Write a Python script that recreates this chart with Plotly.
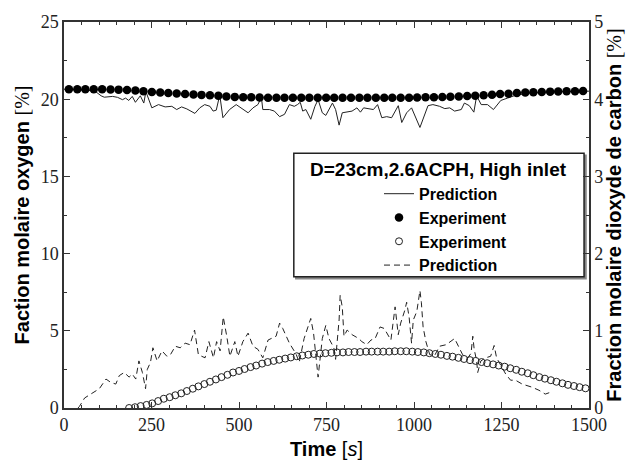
import plotly.graph_objects as go

# ---- data ----
o2_exp_t = [14, 38, 61, 85, 109, 133, 156, 180, 204, 227, 251, 275, 298, 322, 346, 370, 393, 417, 441, 464,
            488, 512, 535, 559, 583, 607, 630, 654, 678, 701, 725, 749, 772, 796, 820, 844, 867, 891, 915, 938,
            962, 986, 1009, 1033, 1057, 1081, 1104, 1128, 1152, 1175, 1199, 1223, 1246, 1270, 1294, 1318, 1341,
            1365, 1389, 1412, 1436, 1460, 1483]
o2_exp_v = [20.65, 20.65, 20.65, 20.64, 20.64, 20.63, 20.62, 20.60, 20.57, 20.52, 20.47, 20.43, 20.40, 20.37,
            20.34, 20.31, 20.28, 20.25, 20.22, 20.18, 20.15, 20.13, 20.12, 20.11, 20.10, 20.10, 20.10, 20.10,
            20.10, 20.10, 20.10, 20.10, 20.10, 20.10, 20.10, 20.10, 20.10, 20.10, 20.10, 20.10, 20.10, 20.10,
            20.11, 20.12, 20.13, 20.14, 20.16, 20.18, 20.20, 20.22, 20.25, 20.29, 20.33, 20.36, 20.40, 20.43,
            20.45, 20.47, 20.49, 20.50, 20.51, 20.52, 20.53]

o2_pred_t = [0, 40, 87, 106, 115, 139, 153, 167, 176, 185, 195, 204, 218, 228, 234, 251, 270, 289, 308, 322,
             336, 351, 374, 388, 402, 417, 426, 435, 445, 454, 473, 492, 498, 526, 540, 554, 564, 568, 587, 601,
             616, 630, 644, 658, 667, 675, 682, 691, 705, 717, 726, 738, 748, 767, 776, 786, 795, 809, 823, 837,
             847, 856, 875, 884, 896, 908, 922, 936, 955, 965, 979, 993, 1017, 1040, 1054, 1073, 1088, 1102, 1116,
             1135, 1144, 1158, 1171, 1179, 1192, 1210, 1227, 1248, 1267, 1286, 1320, 1360, 1400, 1450, 1500]
o2_pred_v = [20.65, 20.62, 20.55, 20.22, 20.13, 20.18, 20.12, 19.97, 20.07, 19.92, 20.18, 19.80, 20.22, 19.75,
             20.49, 19.44, 19.65, 19.50, 19.54, 19.33, 19.50, 19.37, 19.08, 19.44, 19.65, 19.54, 19.23, 19.29,
             20.28, 18.80, 19.33, 19.65, 19.55, 19.12, 19.44, 19.65, 20.13, 19.33, 19.33, 19.23, 18.87, 19.02,
             19.65, 19.54, 19.65, 19.80, 19.23, 19.33, 18.70, 19.54, 19.97, 19.12, 18.95, 19.75, 19.33, 18.32,
             19.12, 19.16, 19.23, 19.44, 19.16, 19.44, 19.37, 19.33, 19.65, 18.80, 18.87, 18.80, 19.58, 18.49,
             19.12, 19.44, 18.17, 19.58, 19.65, 19.54, 19.39, 19.44, 19.23, 19.33, 19.75, 19.58, 19.16, 20.22,
             19.65, 19.65, 19.33, 19.92, 20.07, 20.22, 20.38, 20.45, 20.48, 20.50, 20.52]

co2_exp_t = [186, 203, 219, 236, 252, 269, 285, 302, 318, 335, 351, 368, 384, 401, 417, 434, 450, 467, 483, 500,
             516, 533, 549, 566, 582, 599, 615, 632, 648, 665, 681, 698, 714, 731, 747, 764, 780, 797, 813, 830,
             846, 863, 879, 896, 912, 929, 945, 962, 978, 995, 1011, 1028, 1044, 1061, 1077, 1094, 1110, 1127,
             1143, 1160, 1176, 1193, 1209, 1226, 1242, 1259, 1275, 1292, 1308, 1325, 1341, 1358, 1374, 1391,
             1407, 1424, 1440, 1457, 1473, 1490]
co2_exp_v = [0.00, 0.01, 0.025, 0.04, 0.06, 0.09, 0.12, 0.14, 0.165, 0.19, 0.22, 0.25, 0.28, 0.31, 0.34, 0.37,
             0.40, 0.43, 0.46, 0.48, 0.505, 0.53, 0.55, 0.575, 0.595, 0.61, 0.625, 0.64, 0.655, 0.67, 0.68, 0.69,
             0.70, 0.705, 0.71, 0.715, 0.72, 0.72, 0.725, 0.725, 0.725, 0.73, 0.73, 0.73, 0.73, 0.73, 0.735,
             0.735, 0.735, 0.73, 0.725, 0.72, 0.71, 0.70, 0.69, 0.675, 0.665, 0.65, 0.635, 0.62, 0.61, 0.595,
             0.58, 0.565, 0.55, 0.535, 0.515, 0.495, 0.47, 0.45, 0.425, 0.40, 0.38, 0.36, 0.34, 0.32, 0.30,
             0.285, 0.27, 0.255]

co2_pred_t = [40, 44, 59, 82, 101, 120, 134, 148, 158, 172, 186, 195, 205, 214, 224, 233, 238, 247, 254, 266,
              280, 294, 304, 318, 332, 346, 360, 373, 384, 403, 414, 427, 436, 446, 455, 465, 474, 488, 497, 511,
              526, 540, 554, 568, 583, 606, 616, 625, 644, 663, 672, 686, 705, 713, 717, 722, 726, 738, 748, 757,
              771, 776, 781, 786, 789, 795, 800, 809, 823, 842, 851, 865, 877, 889, 903, 915, 934, 941, 946, 955,
              962, 974, 979, 986, 993, 998, 1008, 1017, 1021, 1026, 1034, 1045, 1059, 1073, 1092, 1116, 1130,
              1139, 1154, 1163, 1168, 1172, 1179, 1182, 1191, 1205, 1219, 1229, 1236, 1248, 1262, 1276, 1290,
              1309, 1323, 1337, 1357, 1366, 1375, 1394]
co2_pred_v = [0.00, 0.02, 0.13, 0.19, 0.25, 0.375, 0.33, 0.31, 0.42, 0.46, 0.40, 0.44, 0.375, 0.61, 0.46, 0.25,
              0.50, 0.59, 0.78, 0.61, 0.74, 0.67, 0.69, 0.80, 0.78, 0.84, 0.82, 1.01, 0.69, 0.65, 0.86, 0.65, 0.86,
              0.74, 1.18, 0.93, 0.67, 0.86, 0.67, 0.86, 0.97, 0.80, 0.76, 0.65, 0.88, 0.93, 1.10, 1.03, 0.84, 0.70,
              0.59, 0.90, 1.16, 0.97, 0.78, 0.57, 0.40, 0.90, 1.07, 0.90, 0.78, 0.63, 0.93, 1.14, 1.46, 1.31, 0.93,
              1.01, 0.95, 0.90, 0.86, 0.82, 0.88, 0.90, 1.05, 1.03, 0.88, 1.14, 1.31, 0.95, 1.10, 1.27, 1.37, 1.18,
              0.84, 1.14, 1.25, 1.52, 1.37, 1.05, 0.86, 0.69, 0.68, 0.80, 0.82, 0.90, 0.78, 0.69, 0.65, 0.71, 0.93,
              0.76, 0.61, 0.46, 0.61, 0.65, 0.67, 0.81, 0.65, 0.55, 0.44, 0.36, 0.36, 0.31, 0.29, 0.27, 0.23, 0.21,
              0.18, 0.21]

x_ticks = [0, 250, 500, 750, 1000, 1250, 1500]
y_ticks = [0, 5, 10, 15, 20, 25]
y2_ticks = [0, 1, 2, 3, 4, 5]

legend_title = "D=23cm,2.6ACPH, High inlet"

SERIF = "Liberation Serif"
SANS = "Liberation Sans"

fig = go.Figure()
fig.add_trace(go.Scatter(x=o2_pred_t, y=o2_pred_v, mode="lines", name="Prediction",
                         line=dict(color="#222", width=1)))
fig.add_trace(go.Scatter(x=o2_exp_t, y=o2_exp_v, mode="markers", name="Experiment",
                         marker=dict(symbol="circle", size=8.5, color="black")))
fig.add_trace(go.Scatter(x=co2_exp_t, y=co2_exp_v, mode="markers", name="Experiment", yaxis="y2",
                         marker=dict(symbol="circle-open", size=7, color="#222", line=dict(width=1))))
fig.add_trace(go.Scatter(x=co2_pred_t, y=co2_pred_v, mode="lines", name="Prediction", yaxis="y2",
                         line=dict(color="#222", width=1, dash="6px,4px")))

L, R, T, B = 64, 40, 19, 56
W, H = 634, 469
pw, ph = W - L - R, H - T - B


def px(xp):
    return (xp - L) / pw


def py(yp):
    return (H - B - yp) / ph


axis_common = dict(showline=True, linecolor="#333", linewidth=1.5, ticks="inside", ticklen=6,
                   tickcolor="#333", showgrid=False, zeroline=False,
                   tickfont=dict(family=SERIF, size=18, color="#222"))

fig.update_layout(
    width=W, height=H,
    margin=dict(l=L, r=R, t=T, b=B),
    paper_bgcolor="white", plot_bgcolor="white",
    showlegend=True,
    xaxis=dict(range=[0, 1500], tickvals=x_ticks, mirror="ticks",
               minor=dict(ticks="inside", ticklen=3, dtick=50, tickcolor="#333"),
               title=dict(text="<b>Time</b> [<i>s</i>]", standoff=8,
                          font=dict(family=SANS, size=20, color="black")),
               **axis_common),
    yaxis=dict(range=[0, 25], tickvals=y_ticks,
               minor=dict(ticks="inside", ticklen=3, dtick=2.5, tickcolor="#333"),
               title=dict(text="<b>Faction molaire oxygen</b> <span style='font-family:Liberation Serif;font-weight:normal'>[%]</span>",
                          standoff=6, font=dict(family=SANS, size=20, color="black")),
               **axis_common),
    yaxis2=dict(range=[0, 5], tickvals=y2_ticks, overlaying="y", side="right",
                minor=dict(ticks="inside", ticklen=3, dtick=0.5, tickcolor="#333"),
                title=dict(text="<b>Fraction molaire dioxyde de carbon</b> <span style='font-family:Liberation Serif;font-weight:normal'>[%]</span>",
                           standoff=5, font=dict(family=SANS, size=20, color="black")),
                **axis_common),
    legend=dict(x=px(382), y=py(177), xanchor="left", yanchor="top", bgcolor="rgba(0,0,0,0)",
                borderwidth=0, font=dict(family=SANS, size=16, color="black", weight="bold"),
                traceorder="normal", itemwidth=30),
    shapes=[
        dict(type="rect", xref="paper", yref="paper", x0=px(298), x1=px(591), y0=py(281), y1=py(155),
             line=dict(color="#888", width=1.5), fillcolor="#888", layer="below"),
        dict(type="rect", xref="paper", yref="paper", x0=px(296), x1=px(589), y0=py(279), y1=py(153),
             line=dict(color="#222", width=1.5), fillcolor="white", layer="below"),
    ],
    annotations=[
        dict(text="<b>" + legend_title + "</b>", xref="paper", yref="paper", x=px(442), y=py(170),
             xanchor="center", yanchor="middle", showarrow=False,
             font=dict(family=SANS, size=19, color="black")),
    ],
)

fig.write_html("out.html")
